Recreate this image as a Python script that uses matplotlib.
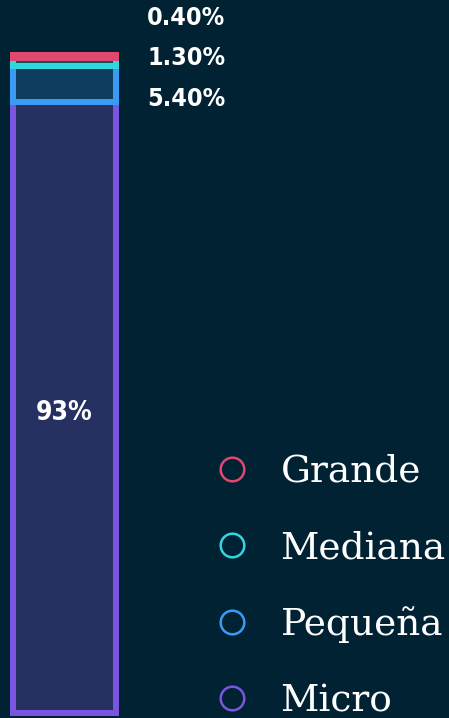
import matplotlib
matplotlib.use("Agg")
import matplotlib.pyplot as plt
from matplotlib.lines import Line2D

# ---- data ----
categories = ["Micro", "Pequeña", "Mediana", "Grande"]
values = [93.0, 5.4, 1.3, 0.4]
value_labels = ["93%", "5.40%", "1.30%", "0.40%"]
edge_colors = ["#7B55DF", "#3B9BF2", "#30D6E0", "#E2476F"]
fill_colors = ["#263162", "#0E3D5F", "#11505C", "#5A2340"]

BG = "#012233"
W, H = 449, 718
fig = plt.figure(figsize=(W / 100, H / 100), dpi=100, facecolor=BG)

num_font = dict(family="DejaVu Sans", fontweight="bold", fontstretch="condensed")

# bar axes (pixel layout)
x0, x1 = 13, 116
ytop, ybot = 55, 713
ax = fig.add_axes([x0 / W, 1 - ybot / H, (x1 - x0) / W, (ybot - ytop) / H])
ax.set_facecolor(BG)
ax.axis("off")
total = sum(values)
ax.set_xlim(-0.5, 0.5)
ax.set_ylim(0, total)

lw_pt = 6 * 72 / 100
bottom = 0
for v, ec, fc in zip(values, edge_colors, fill_colors):
    ax.bar(0, v, width=1.0, bottom=bottom, color=fc, edgecolor=ec,
           linewidth=lw_pt, clip_on=False)
    bottom += v

# label in main segment
ax.text(0, values[0] / 2 - 0.8, value_labels[0], ha="center", va="center",
        color="white", fontsize=19, **num_font)

# stacked labels top-right
label_y = [99, 58, 18]
for lab, y in zip(value_labels[1:], label_y):
    fig.text(147 / W, 1 - y / H, lab, ha="left", va="center", color="white",
             fontsize=18, **num_font)

# legend
handles = [Line2D([], [], marker="o", linestyle="none", markersize=17,
                  markerfacecolor="none", markeredgecolor=c, markeredgewidth=1.8)
           for c in edge_colors[::-1]]
leg = fig.legend(handles, categories[::-1], loc="upper left",
                 bbox_to_anchor=(213 / W, 1 - 454 / H), frameon=False,
                 prop={"family": "DejaVu Serif", "size": 27},
                 labelspacing=1.07, handlelength=1.0, handletextpad=0.8,
                 borderaxespad=0, borderpad=0)
for t in leg.get_texts():
    t.set_color("white")

fig.savefig("out.png", dpi=100, facecolor=BG)
